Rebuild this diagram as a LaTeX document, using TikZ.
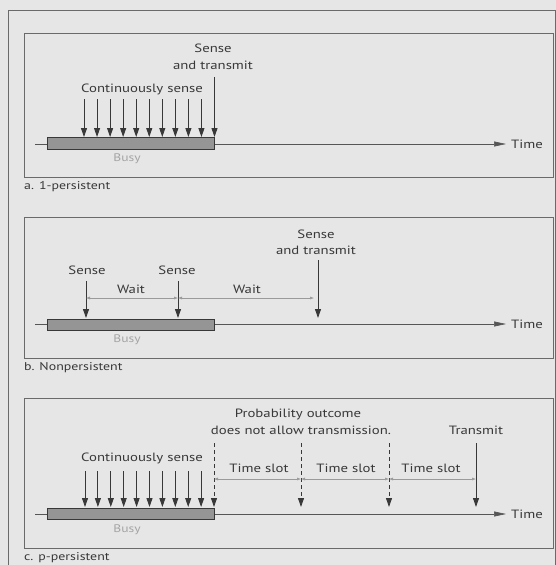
\documentclass[tikz,border=0pt]{standalone}
\usepackage{fontspec}
\setmainfont{PT Sans}[FakeStretch=1.23]
\usetikzlibrary{arrows.meta}
\definecolor{bg}{HTML}{E6E6E6}
\definecolor{ink}{HTML}{383838}
\definecolor{framec}{HTML}{6A6A6A}
\definecolor{busyfill}{HTML}{959595}
\definecolor{dimc}{HTML}{9A9A9A}
\definecolor{busytext}{HTML}{A4A4A4}
\tikzset{
  lbl/.style={font=\fontsize{12}{14}\selectfont, text=ink, inner sep=0pt},
  caplbl/.style={font=\fontsize{11.3}{13}\selectfont, text=ink, anchor=west, inner sep=0pt},
  busylbl/.style={font=\fontsize{11}{13}\selectfont, text=busytext, inner sep=0pt},
  sensearrow/.style={draw=ink, line width=0.9pt, -{Triangle[length=9pt,width=6pt]}},
  dashedarrow/.style={draw=ink, line width=0.9pt, dash pattern=on 4pt off 3pt, -{Triangle[length=9pt,width=6pt]}},
  dimline/.style={draw=dimc, line width=0.5pt, {Latex[length=4pt,width=3pt]}-{Latex[length=4pt,width=3pt]}},
  axisline/.style={draw=ink!85, line width=0.6pt, -{Triangle[length=12pt,width=5pt]}},
  busybar/.style={draw=ink, fill=busyfill, line width=0.6pt, inner sep=0pt, minimum width=167pt},
  panel/.style={draw=framec, line width=0.8pt},
}
\begin{document}
\begin{tikzpicture}[x=1pt,y=-1pt]
\useasboundingbox (0,0) rectangle (556,565);
\fill[bg] (0,0) rectangle (556,565);
\draw[framec, line width=0.8pt] (8,570) -- (8,10) -- (555.5,10) -- (555.5,570);

% ---------- panel a ----------
\draw[panel] (24,33) rectangle (553,177);
\coordinate (aS) at (35,144);
\coordinate (aE) at (506,144);
\draw[axisline] (aS) -- (aE);
\node[lbl, anchor=west] (timeA) at (511,144) {Time};
\node[busybar, minimum height=12pt] (busyA) at (130.5,143) {};
\node[busylbl] (busyAl) at (127,159) {Busy};
\foreach \i in {0,...,9}{
  \coordinate (aT\i) at ({84+\i*13.05},99);
  \coordinate (aB\i) at ({84+\i*13.05},137);
  \draw[sensearrow] (aT\i) -- (aB\i);
}
\coordinate (aTT) at (214.5,77);
\coordinate (aTB) at (214.5,137);
\draw[sensearrow] (aTT) -- (aTB);
\node[lbl] (contA) at (142,89) {Continuously sense};
\node[lbl] (senseA) at (213,48) {Sense};
\node[lbl] (andA) at (213,65) {and transmit};
\node[caplbl] (capA) at (24,187) {a. 1-persistent};

% ---------- panel b ----------
\draw[panel] (24,217) rectangle (553,358);
\coordinate (bS) at (35,324);
\coordinate (bE) at (506,324);
\draw[axisline] (bS) -- (bE);
\node[lbl, anchor=west] (timeB) at (511,324) {Time};
\node[busybar, minimum height=11pt] (busyB) at (130.5,325) {};
\node[busylbl] (busyBl) at (127,340) {Busy};
\coordinate (b1T) at (86,281);  \coordinate (b1B) at (86,318);
\coordinate (b2T) at (178,281); \coordinate (b2B) at (178,318);
\coordinate (b3T) at (318,260); \coordinate (b3B) at (318,318);
\draw[sensearrow] (b1T) -- (b1B);
\draw[sensearrow] (b2T) -- (b2B);
\draw[sensearrow] (b3T) -- (b3B);
\node[lbl] (s1B) at (87,270) {Sense};
\node[lbl] (s2B) at (177,270) {Sense};
\node[lbl] (s3B) at (316,234) {Sense};
\node[lbl] (andB) at (316,250) {and transmit};
\coordinate (w1L) at (86,298);  \coordinate (w1R) at (178,298);
\coordinate (w2L) at (178,298); \coordinate (w2R) at (314,298);
\draw[dimline] (w1L) -- (w1R);
\draw[dimline] (w2L) -- (w2R);
\node[lbl] (wait1) at (131,289) {Wait};
\node[lbl] (wait2) at (247,289) {Wait};
\node[caplbl] (capB) at (24,368) {b. Nonpersistent};

% ---------- panel c ----------
\draw[panel] (24,398) rectangle (553,548);
\coordinate (cS) at (35,514);
\coordinate (cE) at (506,514);
\draw[axisline] (cS) -- (cE);
\node[lbl, anchor=west] (timeC) at (511,514) {Time};
\node[busybar, minimum height=11pt] (busyC) at (130.5,514) {};
\node[busylbl] (busyCl) at (127,530) {Busy};
\foreach \i in {0,...,9}{
  \coordinate (cT\i) at ({85+\i*12.9},471);
  \coordinate (cB\i) at ({85+\i*12.9},507);
  \draw[sensearrow] (cT\i) -- (cB\i);
}
\coordinate (d1T) at (214,443); \coordinate (d1B) at (214,507);
\coordinate (d2T) at (301,443); \coordinate (d2B) at (301,507);
\coordinate (d3T) at (389,443); \coordinate (d3B) at (389,507);
\coordinate (trT) at (476,443); \coordinate (trB) at (476,507);
\draw[dashedarrow] (d1T) -- (d1B);
\draw[dashedarrow] (d2T) -- (d2B);
\draw[dashedarrow] (d3T) -- (d3B);
\draw[sensearrow] (trT) -- (trB);
\node[lbl] (contC) at (142,458) {Continuously sense};
\node[lbl] (probC) at (298,414) {Probability outcome};
\node[lbl] (doesC) at (301,430) {does not allow transmission.};
\node[lbl] (transC) at (476,430) {Transmit};
\coordinate (t1L) at (214,479); \coordinate (t1R) at (301,479);
\coordinate (t2L) at (301,479); \coordinate (t2R) at (389,479);
\coordinate (t3L) at (389,479); \coordinate (t3R) at (476,479);
\draw[dimline] (t1L) -- (t1R);
\draw[dimline] (t2L) -- (t2R);
\draw[dimline] (t3L) -- (t3R);
\node[lbl] (ts1) at (259,468) {Time slot};
\node[lbl] (ts2) at (346,468) {Time slot};
\node[lbl] (ts3) at (431,468) {Time slot};
\node[caplbl] (capC) at (24,558) {c. p-persistent};
\end{tikzpicture}
\end{document}
